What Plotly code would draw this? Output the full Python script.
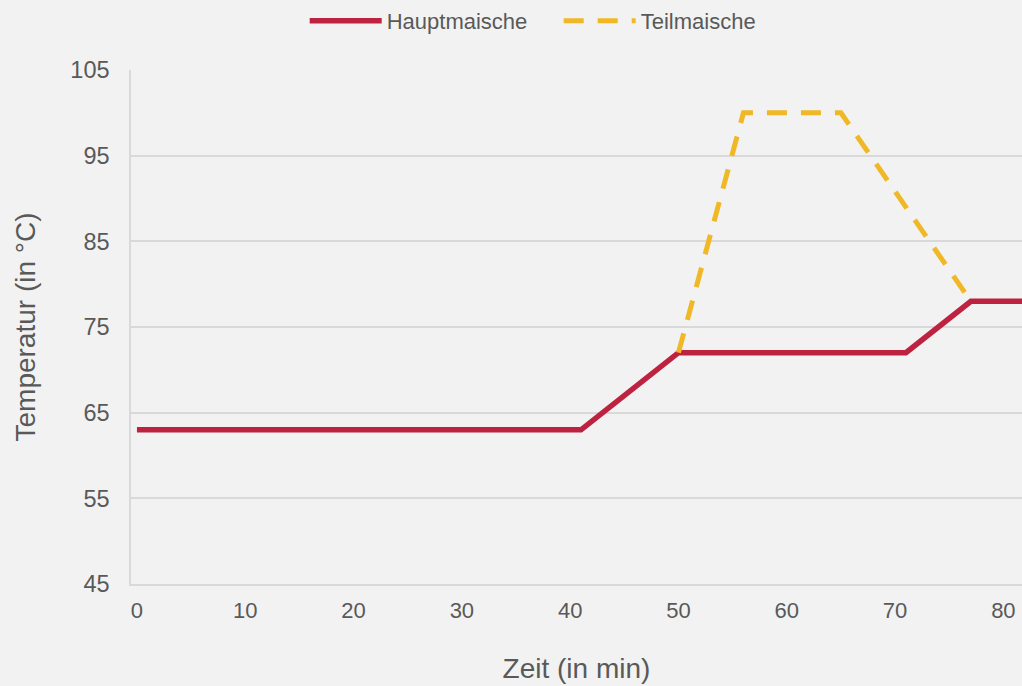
import plotly.graph_objects as go

# Data
time_haupt = [0, 41, 50, 71, 77, 85]
temp_haupt = [63, 63, 72, 72, 78, 78]
time_teil = [50, 56, 65, 77]
temp_teil = [72, 100, 100, 78]
x_ticks = [0, 10, 20, 30, 40, 50, 60, 70, 80]
y_ticks = [45, 55, 65, 75, 85, 95, 105]

TEXT = "#595959"
GRID = "#D9D9D9"
FONT = "Liberation Sans, Arial, sans-serif"

fig = go.Figure()
fig.add_trace(go.Scatter(
    x=time_haupt, y=temp_haupt, mode="lines", name="Hauptmaische",
    line=dict(color="#BE2241", width=5.5),
))
fig.add_trace(go.Scatter(
    x=time_teil, y=temp_teil, mode="lines", name="Teilmaische",
    line=dict(color="#F0B826", width=5, dash="20px,14px"),
))

fig.update_layout(
    width=1022, height=686, autosize=False,
    margin=dict(l=131, r=0, t=69, b=102),
    paper_bgcolor="#F2F2F2", plot_bgcolor="#F2F2F2",
    font=dict(family=FONT, color=TEXT, size=22),
    showlegend=True,
    legend=dict(orientation="h", x=0.480, xanchor="center", y=1.095, yanchor="middle",
                font=dict(size=22, color=TEXT), bgcolor="rgba(0,0,0,0)",
                itemwidth=72, entrywidth=167),
    xaxis=dict(
        range=[-0.55, 81.72], tickmode="array", tickvals=x_ticks,
        ticktext=[str(v) for v in x_ticks],
        showgrid=False, zeroline=False, showline=True, linecolor=GRID, linewidth=1.5,
        ticks="", ticklabelstandoff=6,
        tickfont=dict(size=22, color=TEXT),
        title=dict(text="Zeit (in min)", font=dict(size=28, color=TEXT), standoff=36),
    ),
    yaxis=dict(
        range=[45, 105], tickmode="array", tickvals=y_ticks,
        ticktext=[str(v) for v in y_ticks],
        showgrid=True, gridcolor=GRID, gridwidth=1.5, zeroline=False,
        showline=True, linecolor=GRID, linewidth=1.5,
        ticks="", ticklabelstandoff=15,
        tickfont=dict(size=23.5, color=TEXT),
        title=dict(text="Temperatur (in °C)", font=dict(size=28, color=TEXT), standoff=27),
    ),
)

fig.write_html("out.html", config={"displayModeBar": False},
               post_script="document.body.style.margin='0';document.body.style.overflow='hidden';")
